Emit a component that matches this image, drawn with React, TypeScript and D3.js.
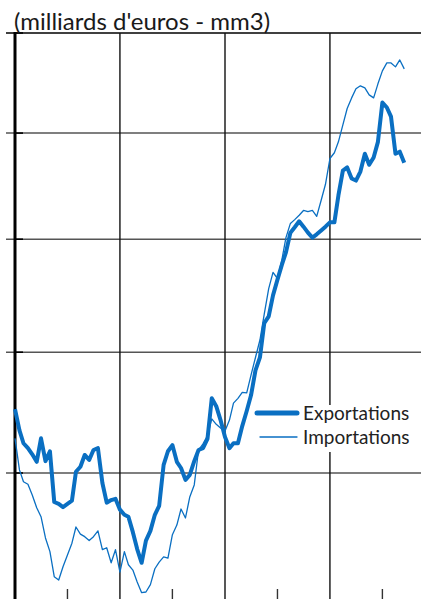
import * as d3 from 'd3';
import { useEffect, useRef } from 'react';

// monthly series, mm3, milliards d'euros, from Jan 2001
const startDate = new Date(2001, 0, 1);
const exportations = [
    29.04, 28.69, 28.48, 28.4, 28.3, 28.18, 28.56, 28.19, 28.35, 27.54, 27.51, 27.46,
    27.51, 27.56, 28.02, 28.1, 28.29, 28.21, 28.37, 28.4, 27.84, 27.53, 27.57, 27.59,
    27.42, 27.34, 27.31, 27.07, 26.81, 26.6, 26.94, 27.09, 27.34, 27.48, 28.13, 28.35,
    28.45, 28.18, 28.08, 27.89, 27.97, 28.19, 28.37, 28.4, 28.55, 29.22, 29.09, 28.86,
    28.58, 28.4, 28.48, 28.48, 28.76, 29.01, 29.27, 29.69, 29.91, 30.5, 30.62, 30.99,
    31.27, 31.54, 31.76, 32.12, 32.22, 32.33, 32.23, 32.12, 32.03, 32.09, 32.16, 32.23,
    32.31, 32.31, 32.81, 33.28, 33.34, 33.13, 33.09, 33.26, 33.6, 33.39, 33.53, 33.83,
    34.6, 34.5, 34.32, 33.6, 33.64, 33.43,
];
const importations = [
    28.56, 28.05, 27.86, 27.82, 27.65, 27.45, 27.31, 26.98, 26.77, 26.39, 26.34, 26.54,
    26.72, 26.9, 27.15, 27.04, 27.0, 26.94, 27.0, 27.09, 26.8, 26.83, 26.6, 26.8,
    26.46, 26.77, 26.57, 26.49, 26.31, 26.15, 26.16, 26.27, 26.51, 26.61, 26.69, 26.67,
    27.03, 27.18, 27.43, 27.29, 27.62, 27.81, 28.37, 28.47, 28.6, 28.88, 28.79, 28.73,
    28.68, 28.86, 29.14, 29.22, 29.32, 29.31, 29.61, 29.91, 30.21, 30.66, 31.11, 31.4,
    31.29, 31.63, 32.03, 32.29, 32.36, 32.44, 32.53, 32.51, 32.53, 32.42, 32.72, 33.02,
    33.51, 33.62, 33.83, 34.16, 34.48, 34.69, 34.87, 34.93, 34.89, 34.75, 34.69, 34.97,
    35.23, 35.39, 35.39, 35.31, 35.45, 35.27,
];
const yTicks = [28, 30, 32, 34, 36];
const gridYears = [2003, 2005, 2007];
const tickYears = [2002, 2004, 2006, 2008];
const seriesNames = ['Exportations', 'Importations'];
const title = "(milliards d'euros - mm3)";

const blue = '#0a6fc2';
const font = 'Lato, "Noto Sans", sans-serif';

export default function App() {
    const ref = useRef<SVGSVGElement | null>(null);

    useEffect(() => {
        if (!ref.current) return;
        const svg = d3.select(ref.current);
        svg.selectAll('*').remove();

        const width = 421;
        const height = 599;

        const x = d3
            .scaleTime()
            .domain([new Date(2001, 0, 1), new Date(2009, 0, 1)])
            .range([15, 435]);
        const y = d3.scaleLog().domain([28, 36]).range([473, 33]);

        const dates = exportations.map((_, i) => d3.timeMonth.offset(startDate, i));

        // horizontal grid
        svg.append('g')
            .selectAll('line')
            .data(yTicks)
            .join('line')
            .attr('x1', 6)
            .attr('x2', width)
            .attr('y1', (d) => y(d))
            .attr('y2', (d) => y(d))
            .attr('stroke', (d) => (d === 36 ? '#000' : '#555'))
            .attr('stroke-width', 1.6);

        // inner ticks on left axis
        svg.append('g')
            .selectAll('line')
            .data(yTicks)
            .join('line')
            .attr('x1', 14)
            .attr('x2', 23)
            .attr('y1', (d) => y(d))
            .attr('y2', (d) => y(d))
            .attr('stroke', '#000')
            .attr('stroke-width', 1.6);

        // vertical grid (every 2 years)
        svg.append('g')
            .selectAll('line')
            .data(gridYears)
            .join('line')
            .attr('x1', (d) => x(new Date(d, 0, 1)))
            .attr('x2', (d) => x(new Date(d, 0, 1)))
            .attr('y1', y(36))
            .attr('y2', height)
            .attr('stroke', '#111')
            .attr('stroke-width', 1.4);

        // bottom ticks
        svg.append('g')
            .selectAll('line')
            .data(tickYears)
            .join('line')
            .attr('x1', (d) => x(new Date(d, 0, 1)))
            .attr('x2', (d) => x(new Date(d, 0, 1)))
            .attr('y1', 589)
            .attr('y2', height)
            .attr('stroke', '#333')
            .attr('stroke-width', 1.4);

        // left axis
        svg.append('line')
            .attr('x1', x(startDate))
            .attr('x2', x(startDate))
            .attr('y1', y(36) - 1)
            .attr('y2', height)
            .attr('stroke', '#000')
            .attr('stroke-width', 3);

        const line = d3
            .line<number>()
            .x((_, i) => x(dates[i]))
            .y((d) => y(d));

        svg.append('path')
            .datum(importations)
            .attr('d', line)
            .attr('fill', 'none')
            .attr('stroke', blue)
            .attr('stroke-width', 1.3)
            .attr('stroke-linejoin', 'round');

        svg.append('path')
            .datum(exportations)
            .attr('d', line)
            .attr('fill', 'none')
            .attr('stroke', blue)
            .attr('stroke-width', 4)
            .attr('stroke-linejoin', 'round');

        // legend
        const legend = svg.append('g');
        legend
            .append('rect')
            .attr('x', 252)
            .attr('y', 405)
            .attr('width', width - 252)
            .attr('height', 47)
            .attr('fill', '#fff');
        seriesNames.forEach((name, i) => {
            const ly = 413 + i * 24;
            legend
                .append('line')
                .attr('x1', i === 0 ? 257 : 260)
                .attr('x2', 297)
                .attr('y1', ly)
                .attr('y2', ly)
                .attr('stroke', blue)
                .attr('stroke-width', i === 0 ? 5 : 1.3)
                .attr('stroke-linecap', 'round');
            legend
                .append('text')
                .attr('x', 303)
                .attr('y', ly + 7)
                .attr('font-family', font)
                .attr('font-size', 19)
                .attr('fill', '#222')
                .text(name);
        });

        svg.append('text')
            .attr('x', 14)
            .attr('y', 30)
            .attr('font-family', font)
            .attr('font-size', 24)
            .attr('fill', '#1a1a1a')
            .text(title);
    }, []);

    return (
        <svg
            ref={ref}
            width={421}
            height={599}
            style={{ position: 'absolute', left: 0, top: 0, background: '#fff' }}
        />
    );
}
